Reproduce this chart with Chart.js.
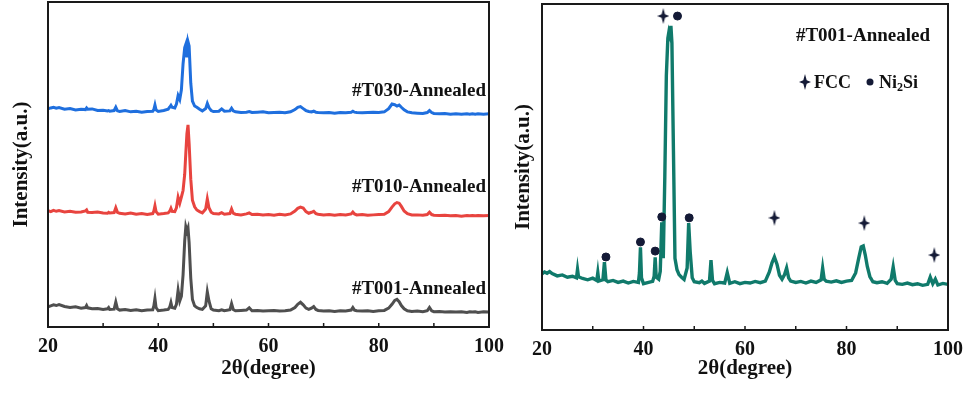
<!DOCTYPE html>
<html>
<head>
<meta charset="utf-8">
<title>XRD patterns</title>
<script src="https://cdn.jsdelivr.net/npm/chart.js@4.4.1/dist/chart.umd.min.js"></script>
<style>
  html, body { margin: 0; padding: 0; background: #fff; overflow: hidden; }
  #wrap { position: relative; width: 966px; height: 394px; }
  #left { position: absolute; left: 0; top: 0; }
  #right { position: absolute; left: 500px; top: 0; }
</style>
</head>
<body>
<div id="wrap">
  <canvas id="left" width="510" height="394"></canvas>
  <canvas id="right" width="466" height="394"></canvas>
</div>
<script>
// 2theta positions shared by all patterns
const twoTheta = [
  20, 20.5, 21, 21.5, 22, 23, 24, 25, 26, 26.8,
  27, 27.2, 28, 29, 30, 30.8, 31, 31.2, 32, 32.3,
  32.6, 33, 34, 35, 36, 37, 38, 39, 39.2, 39.4,
  39.6, 40, 41, 41.8, 42.1, 42.3, 42.5, 43, 43.3, 43.6,
  43.9, 44.2, 44.5, 44.8, 45.0, 45.2, 45.4, 45.6, 45.9, 46.2,
  46.6, 47, 47.5, 48, 48.6, 48.9, 49.2, 49.6, 50, 51,
  51.5, 52, 53, 53.3, 53.6, 54, 55, 56, 56.5, 57,
  58, 59, 60, 61, 62, 63, 64, 64.8, 65.3, 65.8,
  66.3, 66.8, 67.3, 67.8, 68.2, 68.6, 69, 70, 71, 72,
  73, 74, 75, 75.3, 75.6, 76, 77, 78, 79, 80,
  81, 81.8, 82.4, 82.9, 83.3, 83.7, 84.1, 84.6, 85.2, 86,
  87, 88, 88.8, 89.2, 89.6, 90, 91, 92, 93, 94,
  95, 96, 96.5, 97, 97.5, 98, 99, 100
];

// left panel, raw intensities (before stacking)
const grayT001 = [
  6.2, 6.5, 6.8, 6.6, 6.9, 6.3, 6.0, 6.2, 5.8, 6.0,
  6.6, 5.9, 5.6, 5.7, 5.4, 5.6, 6.0, 5.4, 5.5, 7.7,
  5.6, 5.2, 5.4, 5.1, 5.3, 5.0, 5.2, 5.3, 6.5, 8.8,
  6.0, 5.0, 5.2, 5.4, 6.2, 7.5, 6.0, 5.8, 7.0, 11.3,
  8.0, 9.5, 16.0, 26.5, 30.8, 29.5, 30.5, 26.0, 15.0, 8.5,
  6.5, 6.0, 5.6, 5.4, 6.5, 10.8, 8.0, 5.6, 5.2, 5.0,
  5.3, 5.0, 5.3, 7.2, 5.4, 5.0, 5.1, 5.2, 5.9, 5.0,
  5.1, 4.9, 5.0, 5.1, 4.9, 5.0, 5.2, 6.0, 7.0, 7.6,
  6.8, 5.8, 5.4, 5.8, 6.3, 5.4, 5.1, 4.9, 5.0, 4.8,
  5.0, 4.9, 5.2, 6.0, 5.2, 5.0, 4.9, 5.0, 4.8, 5.0,
  5.1, 5.8, 7.0, 8.2, 8.5, 7.8, 6.6, 5.6, 5.0, 4.8,
  4.9, 4.7, 5.0, 6.0, 5.0, 4.7, 4.8, 4.6, 4.7, 4.6,
  4.7, 4.5, 4.7, 4.6, 4.7, 4.5, 4.7, 4.6
];
const redT010 = [
  6.3, 6.0, 6.4, 6.1, 6.3, 5.9, 6.1, 5.8, 5.9, 6.2,
  6.5, 5.8, 5.7, 5.9, 5.6, 5.5, 5.8, 5.6, 5.7, 7.2,
  5.8, 5.5, 5.3, 5.6, 5.2, 5.4, 5.1, 5.4, 6.2, 7.8,
  6.0, 5.2, 5.4, 5.6, 6.2, 7.0, 6.1, 6.0, 7.2, 10.4,
  8.6, 10.5, 12.5, 17.5, 24.0, 30.0, 32.7, 27.0, 16.0, 9.5,
  7.5, 6.5, 6.0, 5.6, 6.8, 9.9, 7.2, 5.8, 5.4, 5.3,
  5.7, 5.2, 5.4, 6.8, 5.5, 5.2, 5.0, 5.3, 5.6, 5.1,
  5.2, 5.0, 5.1, 4.9, 5.2, 5.0, 5.3, 6.2, 7.0, 7.4,
  7.1, 6.0, 5.5, 5.8, 6.1, 5.4, 5.2, 5.0, 5.1, 4.9,
  5.1, 5.0, 5.3, 5.9, 5.3, 5.0, 5.1, 4.9, 5.0, 5.1,
  5.2, 6.0, 7.4, 8.4, 8.8, 8.6, 7.6, 6.2, 5.4, 5.0,
  5.0, 4.9, 5.1, 5.8, 5.1, 4.9, 4.8, 4.9, 4.7, 4.8,
  4.6, 4.8, 4.7, 4.8, 4.7, 4.8, 4.7, 4.8
];
const blueT030 = [
  6.1, 6.4, 6.6, 6.3, 6.5, 6.0, 6.2, 5.8, 6.0, 5.9,
  6.4, 6.0, 6.1, 5.6, 5.7, 5.5, 5.6, 5.4, 5.6, 6.6,
  5.5, 5.3, 5.6, 5.2, 5.4, 5.1, 5.3, 5.4, 5.9, 7.3,
  5.8, 5.3, 5.6, 6.0, 6.7, 7.2, 6.6, 6.4, 7.6, 10.2,
  9.0, 12.0, 20.0, 25.0, 26.0, 22.0, 26.8, 25.5, 14.0, 8.5,
  7.0, 6.6, 6.0, 5.5, 6.2, 7.8, 6.5, 5.6, 5.3, 5.4,
  6.1, 5.4, 5.5, 6.3, 5.5, 5.2, 5.0, 5.1, 5.3, 5.0,
  5.1, 5.2, 4.9, 5.0, 5.1, 4.9, 5.2, 5.9, 6.6, 6.8,
  6.2, 5.6, 5.3, 5.2, 5.4, 5.1, 5.0, 4.9, 5.0, 4.8,
  5.0, 4.9, 5.1, 5.4, 5.1, 5.0, 4.9, 5.0, 5.1, 5.0,
  5.2, 6.2, 7.6, 7.4, 7.0, 7.3, 6.6, 5.8, 5.2, 4.9,
  4.8, 4.7, 5.0, 5.6, 5.0, 4.7, 4.6, 4.7, 4.5, 4.6,
  4.5, 4.6, 4.5, 4.6, 4.5, 4.6, 4.5, 4.6
];
const stackOffsets = [0, 29.5, 61];
const seriesNames = ['#T001-Annealed', '#T010-Annealed', '#T030-Annealed'];

// right panel
const tealT001 = [
  17.2, 17.8, 17.4, 17.9, 17.3, 16.6, 16.9, 16.2, 16.5, 16.0,
  18.6, 16.3, 15.8, 15.4, 15.9, 15.2, 17.6, 15.0, 15.4, 20.8,
  15.3, 14.8, 15.2, 14.6, 15.0, 14.4, 14.9, 14.6, 17.5, 25.4,
  16.0, 14.2, 14.6, 14.9, 16.5, 22.3, 16.2, 15.6, 18.0, 33.0,
  22.0, 47.0, 78.0, 89.5, 91.4, 90.3, 93.3, 88.0, 55.0, 22.0,
  18.5, 17.0, 16.2, 15.5, 19.0, 32.8, 24.0, 16.0, 14.8, 14.5,
  15.0, 14.3, 15.0, 21.4, 15.2, 14.2, 14.6, 14.4, 17.6, 14.3,
  14.8, 14.2, 14.6, 14.4, 14.9, 14.5, 15.0, 17.8, 20.5, 22.4,
  20.2, 16.8, 15.6, 17.0, 19.0, 16.0, 15.0, 14.6, 14.9, 14.4,
  15.0, 14.6, 15.4, 19.0, 15.6, 15.0, 14.7, 15.1, 14.6, 15.0,
  15.2, 17.5, 22.0, 25.5, 25.8, 23.0, 19.5, 16.4, 14.8, 14.5,
  14.8, 14.3, 15.6, 19.3, 15.2, 14.2, 14.0, 14.4, 13.9, 14.2,
  13.7, 14.0, 16.2, 14.2, 15.6, 13.8, 14.3, 14.0
];
const fccX = [43.9, 65.8, 83.5, 97.3];
const fccY = [96.3, 34.4, 32.8, 23.0];
const ni2siX = [32.6, 39.4, 42.3, 43.6, 46.7, 49.0];
const ni2siY = [22.4, 27.0, 24.2, 34.7, 96.3, 34.4];

const xTicks = [20, 40, 60, 80, 100];
const xMinorTicks = [30, 50, 70, 90];

const FONT = "'Liberation Serif', 'Times New Roman', serif";
const INK = '#111111';
const MARK = '#141a36';

Chart.defaults.font.family = FONT;
Chart.defaults.font.weight = 'bold';
Chart.defaults.color = INK;

function toPoints(xs, ys, offset) {
  return xs.map((x, i) => ({ x: x, y: ys[i] + (offset || 0) }));
}

// four-point star used for FCC markers
function makeStar() {
  const c = document.createElement('canvas');
  c.width = 12; c.height = 16;
  const g = c.getContext('2d');
  const cx = 6, cy = 8, k = 1.7;
  g.fillStyle = MARK;
  g.beginPath();
  g.moveTo(cx, 0);
  g.lineTo(cx + k, cy - k);
  g.lineTo(12, cy);
  g.lineTo(cx + k, cy + k);
  g.lineTo(cx, 16);
  g.lineTo(cx - k, cy + k);
  g.lineTo(0, cy);
  g.lineTo(cx - k, cy - k);
  g.closePath();
  g.fill();
  return c;
}
const starImg = makeStar();

// box around the plot and inward ticks on the bottom axis
const frameTicks = {
  id: 'frameTicks',
  afterDraw(chart) {
    const { ctx, chartArea: a, scales: { x } } = chart;
    ctx.save();
    ctx.strokeStyle = '#1a1a1a';
    ctx.lineWidth = 2;
    ctx.strokeRect(a.left, a.top, a.right - a.left, a.bottom - a.top);
    ctx.lineWidth = 1.5;
    xTicks.concat(xMinorTicks).forEach(v => {
      const px = x.getPixelForValue(v);
      ctx.beginPath();
      ctx.moveTo(px, a.bottom);
      ctx.lineTo(px, a.bottom - 4);
      ctx.stroke();
    });
    ctx.restore();
  }
};

function xScale(height) {
  return {
    type: 'linear',
    min: 20,
    max: 100,
    afterBuildTicks: s => { s.ticks = xTicks.map(v => ({ value: v })); },
    afterFit: s => { s.height = height; s.paddingLeft = 0; s.paddingRight = 0; },
    grid: { display: false, drawTicks: false },
    border: { display: false },
    ticks: { font: { size: 20, weight: 'bold' }, color: INK, padding: 8, maxRotation: 0, autoSkip: false },
    title: { display: true, text: '2θ(degree)', font: { size: 21, weight: 'bold' }, color: INK, padding: { top: 0, bottom: 13 } }
  };
}
function yScale(width, padTop) {
  return {
    min: 0,
    max: 100,
    afterFit: s => { s.width = width; s.paddingTop = 0; s.paddingBottom = 0; },
    grid: { display: false, drawTicks: false },
    border: { display: false },
    ticks: { display: false },
    title: { display: true, text: 'Intensity(a.u.)', font: { size: 21, weight: 'bold' }, color: INK, padding: { top: padTop, bottom: 0 } }
  };
}

// ---------- left panel ----------
const labelLevels = [11.6, 43.0, 72.5];
const stackLabels = {
  id: 'stackLabels',
  afterDatasetsDraw(chart) {
    const { ctx, chartArea: a, scales: { y } } = chart;
    ctx.save();
    ctx.font = 'bold 19px ' + FONT;
    ctx.fillStyle = INK;
    ctx.textAlign = 'right';
    ctx.textBaseline = 'middle';
    seriesNames.forEach((name, i) => {
      ctx.fillText(name, a.right - 3, y.getPixelForValue(labelLevels[i]));
    });
    ctx.restore();
  }
};

const leftColors = ['#4f4f4f', '#e8443f', '#1f6fde'];
const leftSeries = [grayT001, redT010, blueT030];

new Chart(document.getElementById('left'), {
  type: 'scatter',
  data: {
    datasets: leftSeries.map((vals, i) => ({
      label: seriesNames[i],
      data: toPoints(twoTheta, vals, stackOffsets[i]),
      showLine: true,
      borderColor: leftColors[i],
      borderWidth: 3,
      pointRadius: 0,
      tension: 0
    }))
  },
  options: {
    responsive: false,
    animation: false,
    devicePixelRatio: 1,
    layout: { autoPadding: false, padding: { top: 2, right: 21, left: 0, bottom: 0 } },
    plugins: { legend: { display: false }, tooltip: { enabled: false } },
    scales: { x: xScale(67), y: yScale(48, 9) }
  },
  plugins: [frameTicks, stackLabels]
});

// ---------- right panel ----------
const panelNotes = {
  id: 'panelNotes',
  afterDatasetsDraw(chart) {
    const { ctx } = chart;
    ctx.save();
    ctx.fillStyle = INK;
    ctx.textBaseline = 'middle';
    ctx.font = 'bold 19px ' + FONT;
    ctx.textAlign = 'right';
    ctx.fillText('#T001-Annealed', 430, 36);
    // legend row
    ctx.textAlign = 'left';
    ctx.drawImage(starImg, 299, 74);
    ctx.font = 'bold 18px ' + FONT;
    ctx.fillText('FCC', 314, 83);
    ctx.fillStyle = MARK;
    ctx.beginPath();
    ctx.arc(370, 82, 3.5, 0, Math.PI * 2);
    ctx.fill();
    ctx.fillStyle = INK;
    let px = 379;
    ctx.fillText('Ni', px, 83);
    px += ctx.measureText('Ni').width;
    ctx.font = 'bold 12px ' + FONT;
    ctx.fillText('2', px, 88);
    px += ctx.measureText('2').width;
    ctx.font = 'bold 18px ' + FONT;
    ctx.fillText('Si', px, 83);
    ctx.restore();
  }
};

new Chart(document.getElementById('right'), {
  type: 'scatter',
  data: {
    datasets: [
      {
        label: 'FCC',
        data: toPoints(fccX, fccY),
        pointStyle: starImg,
        pointRadius: 8
      },
      {
        label: 'Ni2Si',
        data: toPoints(ni2siX, ni2siY),
        pointStyle: 'circle',
        pointRadius: 4,
        backgroundColor: MARK,
        borderColor: MARK
      },
      {
        label: '#T001-Annealed',
        data: toPoints(twoTheta, tealT001),
        showLine: true,
        borderColor: '#107a6b',
        borderWidth: 3.4,
        pointRadius: 0,
        tension: 0
      }
    ]
  },
  options: {
    responsive: false,
    animation: false,
    devicePixelRatio: 1,
    layout: { autoPadding: false, padding: { top: 4, right: 18, left: 0, bottom: 0 } },
    plugins: { legend: { display: false }, tooltip: { enabled: false } },
    scales: { x: xScale(64), y: yScale(42, 11) }
  },
  plugins: [frameTicks, panelNotes]
});
</script>
</body>
</html>
